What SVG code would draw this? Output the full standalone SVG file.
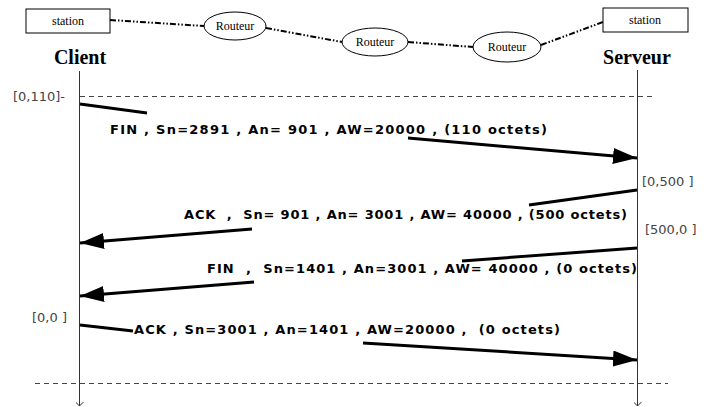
<svg xmlns="http://www.w3.org/2000/svg" width="706" height="407" viewBox="0 0 706 407">
<style>
.box{fill:#fff;stroke:#000;stroke-width:1}
.node-t{font-family:"Liberation Serif","Times New Roman",serif;font-size:12px;fill:#000}
.title{font-family:"Liberation Serif","Times New Roman",serif;font-size:20px;font-weight:bold;fill:#000}
.link{fill:none;stroke:#000;stroke-width:2;stroke-dasharray:6 2 1.5 2 1.5 2}
.life{stroke:#333;stroke-width:1;fill:none}
.dash{stroke:#444;stroke-width:1;stroke-dasharray:5 4;fill:none}
.msg{stroke:#000;stroke-width:3;fill:none}
.lbl{font-family:"DejaVu Sans",Verdana,sans-serif;font-size:13px;font-weight:bold;fill:#000}
.rng{font-family:"DejaVu Sans",Tahoma,sans-serif;font-size:13px;fill:#444}
</style>
<defs>
<marker id="ah" viewBox="0 0 24 16" refX="24" refY="8" markerWidth="24" markerHeight="16" markerUnits="userSpaceOnUse" orient="auto">
<path d="M0,0 L24,8 L0,16 z" fill="#000"/>
</marker>
<marker id="lah" viewBox="0 0 8 8" refX="4" refY="8" markerWidth="8" markerHeight="8" markerUnits="userSpaceOnUse" orient="0">
<path d="M0,4 L4,8 L8,4" fill="none" stroke="#333" stroke-width="1"/>
</marker>
</defs>
<rect width="706" height="407" fill="#fff"/>

<g id="station-client">
<rect class="box" x="26" y="9" width="84" height="24"/>
<text class="node-t" x="68" y="25" text-anchor="middle">station</text>
<text class="title" x="80" y="64" text-anchor="middle">Client</text>
</g>
<g id="routeur1">
<ellipse class="box" cx="235" cy="26" rx="31" ry="14"/>
<text class="node-t" x="235" y="30" text-anchor="middle">Routeur</text>
</g>
<g id="routeur2">
<ellipse class="box" cx="375" cy="42" rx="33" ry="14"/>
<text class="node-t" x="375" y="46" text-anchor="middle">Routeur</text>
</g>
<g id="routeur3">
<ellipse class="box" cx="507" cy="47" rx="34" ry="15"/>
<text class="node-t" x="507" y="51" text-anchor="middle">Routeur</text>
</g>
<g id="station-serveur">
<rect class="box" x="603" y="8" width="85" height="24"/>
<text class="node-t" x="645" y="24" text-anchor="middle">station</text>
<text class="title" x="637" y="64" text-anchor="middle">Serveur</text>
</g>

<g id="lifelines">
<line class="life" x1="79.5" y1="71" x2="79.5" y2="406" marker-end="url(#lah)"/>
<line class="life" x1="637.5" y1="70" x2="637.5" y2="406" marker-end="url(#lah)"/>
<line class="dash" x1="80" y1="96.5" x2="656" y2="96.5"/>
<line class="dash" x1="35" y1="383.5" x2="668" y2="383.5"/>
</g>

<g id="ranges">
<text class="rng" x="13" y="101">[0,110]-</text>
<text class="rng" x="642" y="186">[0,500 ]</text>
<text class="rng" x="645" y="234">[500,0 ]</text>
<text class="rng" x="32" y="322">[0,0 ]</text>
</g>

<g id="connectors">
<path class="link" d="M110,20 L204,26"/>
<path class="link" d="M266,28 L342,42"/>
<path class="link" d="M408,42 L473,47"/>
<path class="link" d="M541,45 L603,22"/>

<path class="msg" d="M80,104 L147,113"/>
<path class="msg" d="M408,138 L637,158" marker-end="url(#ah)"/>
<path class="msg" d="M637,190 L529,205"/>
<path class="msg" d="M252,229 L80,243" marker-end="url(#ah)"/>
<path class="msg" d="M637,248 L462,261"/>
<path class="msg" d="M254,282 L80,296" marker-end="url(#ah)"/>
<path class="msg" d="M80,325 L133,331"/>
<path class="msg" d="M363,343 L637,360" marker-end="url(#ah)"/>
</g>

<g id="labels">
<text class="lbl" x="110" y="134" textLength="437">FIN , Sn=2891 , An= 901 , AW=20000 , (110 octets)</text>
<text class="lbl" x="184" y="219" textLength="443" xml:space="preserve">ACK  ,  Sn= 901 , An= 3001 , AW= 40000 , (500 octets)</text>
<text class="lbl" x="207" y="273" textLength="430" xml:space="preserve">FIN  ,  Sn=1401 , An=3001 , AW= 40000 , (0 octets)</text>
<text class="lbl" x="134" y="334" textLength="426" xml:space="preserve">ACK , Sn=3001 , An=1401 , AW=20000 ,  (0 octets)</text>
</g>
</svg>
